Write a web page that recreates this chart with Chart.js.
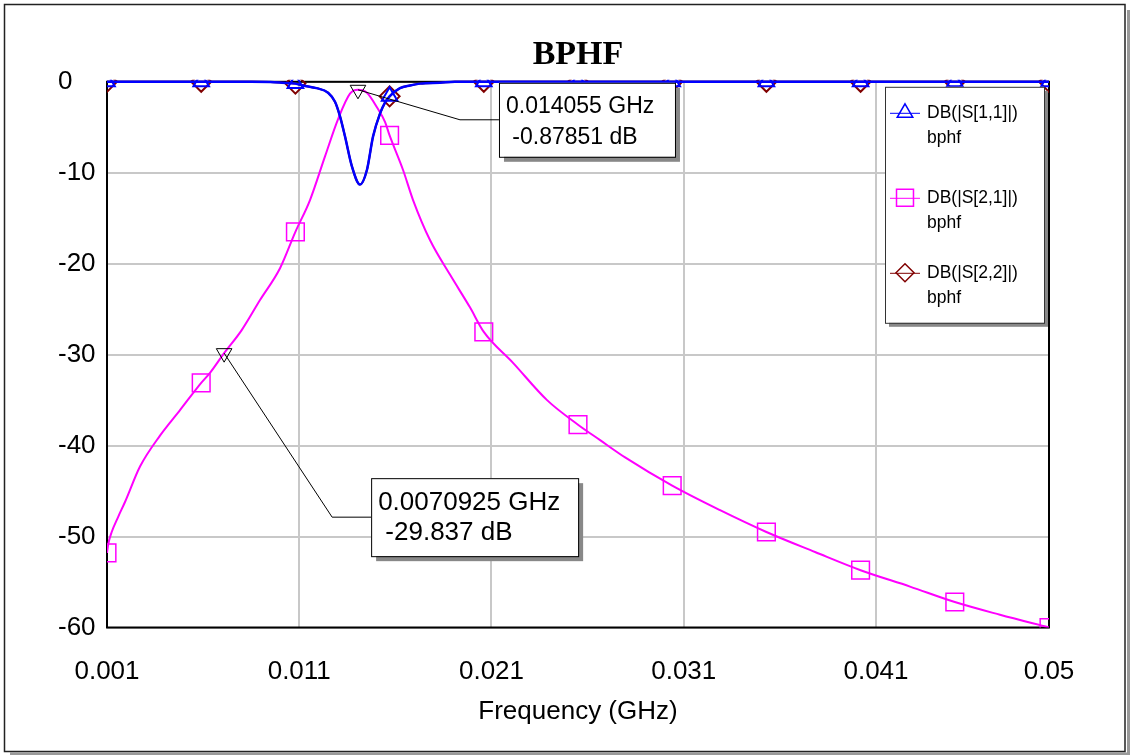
<!DOCTYPE html>
<html>
<head>
<meta charset="utf-8">
<title>BPHF</title>
<script src="https://cdn.jsdelivr.net/npm/chart.js@4/dist/chart.umd.min.js"></script>
<style>
  html, body { margin: 0; padding: 0; background: #fff; }
  #wrap { width: 1130px; height: 755px; }
</style>
</head>
<body>
<div id="wrap"><canvas id="bphf" width="1130" height="755"></canvas></div>
<script>
// axis ticks
const xTicks = [0.001, 0.011, 0.021, 0.031, 0.041, 0.05];
const xTickLabels = ['0.001', '0.011', '0.021', '0.031', '0.041', '0.05'];
const yTicks = [0, -10, -20, -30, -40, -50, -60];
const yTickLabels = ['0', '-10', '-20', '-30', '-40', '-50', '-60'];

// frequencies (GHz) where the trace symbols are drawn
const symbolFreqs = [0.001, 0.0059, 0.0108, 0.0157, 0.0206, 0.0255, 0.0304, 0.0353, 0.0402, 0.0451, 0.05];

// DB(|S[1,1]|)
const s11Freq = [0.001, 0.0059, 0.0085, 0.0095, 0.0101, 0.0108, 0.0112, 0.0119, 0.0125, 0.01286, 0.01312, 0.01338, 0.01374, 0.01416, 0.01452, 0.01484, 0.0152, 0.01546, 0.0157, 0.01624, 0.01676, 0.01728, 0.01832, 0.0191, 0.0206, 0.0255, 0.0304, 0.0353, 0.0402, 0.0451, 0.05];
const s11Db = [0, 0, 0, -0.03, -0.1, -0.2, -0.4, -0.7, -1.2, -2.2, -3.8, -6.0, -9.3, -11.3, -9.7, -6.0, -3.5, -2.3, -1.6, -0.7, -0.4, -0.2, -0.1, 0, 0, 0, 0, 0, 0, 0, 0];

// DB(|S[2,1]|)
const s21Freq = [0.001, 0.001068, 0.001244, 0.001588, 0.001936, 0.002717, 0.003757, 0.004797, 0.0059, 0.006358, 0.0070925, 0.008007, 0.008959, 0.01, 0.0108, 0.01156, 0.01234, 0.01302, 0.01364, 0.014055, 0.01452, 0.01504, 0.01546, 0.0157, 0.0164, 0.01692, 0.0178, 0.01884, 0.01988, 0.0206, 0.02212, 0.02389, 0.0255, 0.02665, 0.02795, 0.0304, 0.03289, 0.0353, 0.03783, 0.0402, 0.04277, 0.0451, 0.04745, 0.05];
const s21Db = [-51.8, -50.8, -49.5, -47.8, -46.2, -42.3, -38.9, -36.1, -33.1, -32.0, -29.837, -27.3, -24.0, -20.5, -16.5, -13.0, -8.2, -4.1, -1.3, -0.87851, -1.2, -2.8, -4.4, -5.9, -9.7, -13.0, -17.4, -21.2, -24.8, -27.5, -30.9, -35.0, -37.7, -39.4, -41.3, -44.4, -47.1, -49.5, -51.7, -53.7, -55.5, -57.2, -58.6, -60.0];

// DB(|S[2,2]|)
const s22Freq = [0.001, 0.0059, 0.0085, 0.0095, 0.0101, 0.0108, 0.0112, 0.0119, 0.0125, 0.01286, 0.01312, 0.01338, 0.01374, 0.01416, 0.01452, 0.01484, 0.0152, 0.01546, 0.0157, 0.01624, 0.01676, 0.01728, 0.01832, 0.0191, 0.0206, 0.0255, 0.0304, 0.0353, 0.0402, 0.0451, 0.05];
const s22Db = [0, 0, 0, -0.03, -0.1, -0.2, -0.4, -0.7, -1.2, -2.2, -3.8, -6.0, -9.3, -11.3, -9.7, -6.0, -3.5, -2.3, -1.6, -0.7, -0.4, -0.2, -0.1, 0, 0, 0, 0, 0, 0, 0, 0];

// marker readouts on S[2,1]
const markerFreqs = [0.014055, 0.0070925];
const markerDbs = [-0.87851, -29.837];

const BLUE = '#0000ff', PINK = '#ff00ff', MAROON = '#800000';
const SANS = "'Liberation Sans', Arial, sans-serif";

function pts(fs, ds) {
  return fs.map((f, i) => ({ x: f, y: ds[i] }));
}
function isSymbol(x) {
  return symbolFreqs.some(f => Math.abs(f - x) < 1e-9);
}
function trace(label, fs, ds, color, width, style, r, bw) {
  return {
    label: label,
    data: pts(fs, ds),
    borderColor: color,
    borderWidth: width,
    cubicInterpolationMode: 'monotone',
    pointStyle: style,
    pointRadius: ctx => (ctx.raw && isSymbol(ctx.raw.x)) ? r : 0,
    pointHoverRadius: 0,
    pointBorderColor: color,
    pointBorderWidth: bw,
    pointBackgroundColor: 'rgba(0,0,0,0)',
    clip: { left: 0, top: 2, right: 0, bottom: 0 }
  };
}

// white page, outer frame and plot border
const framePlugin = {
  id: 'frame',
  beforeDraw(chart) {
    const c = chart.ctx;
    c.save();
    c.fillStyle = '#fff';
    c.fillRect(0, 0, chart.width, chart.height);
    c.fillStyle = '#999';
    c.fillRect(10, 752.5, 1120, 2.5);
    c.fillRect(1127, 10, 3, 745);
    c.strokeStyle = '#222';
    c.lineWidth = 1.5;
    c.strokeRect(4.5, 4.5, 1120.5, 747);
    c.restore();
  },
  beforeDatasetsDraw(chart) {
    const c = chart.ctx, a = chart.chartArea;
    c.save();
    c.strokeStyle = '#000';
    c.lineWidth = 2;
    c.strokeRect(a.left, a.top, a.right - a.left, a.bottom - a.top);
    c.restore();
  }
};

// marker boxes, offsets from the marked point
const readouts = [
  { dx: 141, dy: -7, w: 176, h: 74, size: 23, l1: 24, l2: 55 },
  { dx: 147, dy: 125, w: 207, h: 78, size: 26, l1: 25, l2: 55 }
];

function downTriangle(c, x, y, r) {
  c.beginPath();
  c.moveTo(x, y + r);
  c.lineTo(x - r * 0.866, y - r / 2);
  c.lineTo(x + r * 0.866, y - r / 2);
  c.closePath();
  c.stroke();
}

const markerPlugin = {
  id: 'markers',
  afterDatasetsDraw(chart) {
    const c = chart.ctx, xs = chart.scales.x, ys = chart.scales.y;
    c.save();
    markerFreqs.forEach((f, i) => {
      const px = xs.getPixelForValue(f), py = ys.getPixelForValue(markerDbs[i]);
      const b = readouts[i];
      const bx = px + b.dx, by = py + b.dy;
      // leader
      c.strokeStyle = '#000';
      c.lineWidth = 1;
      c.beginPath();
      c.moveTo(px, py);
      c.lineTo(bx - 39, by + b.h / 2);
      c.lineTo(bx, by + b.h / 2);
      c.stroke();
      downTriangle(c, px, py, 9);
      // box with shadow
      c.fillStyle = '#888';
      c.fillRect(bx + 5, by + 5, b.w, b.h);
      c.fillStyle = '#fff';
      c.fillRect(bx, by, b.w, b.h);
      c.strokeRect(bx + 0.5, by + 0.5, b.w, b.h);
      c.fillStyle = '#000';
      c.font = b.size + 'px ' + SANS;
      c.textBaseline = 'middle';
      c.textAlign = 'left';
      c.fillText(f + ' GHz', bx + 7, by + b.l1);
      c.fillText(' ' + markerDbs[i] + ' dB', bx + 7, by + b.l2);
    });
    c.restore();
  }
};

// legend box in the upper right of the plot
const legendItems = [
  { name: 'DB(|S[1,1]|)', color: BLUE, style: 'triangle', r: 9, dy: 26 },
  { name: 'DB(|S[2,1]|)', color: PINK, style: 'rect', r: 12, dy: 111 },
  { name: 'DB(|S[2,2]|)', color: MAROON, style: 'rectRot', r: 9, dy: 186 }
];
const legendPlugin = {
  id: 'traceLegend',
  afterDraw(chart) {
    const c = chart.ctx, a = chart.chartArea;
    const lx = a.right - 164, ly = a.top + 5, w = 159, h = 236;
    c.save();
    c.fillStyle = '#888';
    c.fillRect(lx + 4, ly + 4, w, h);
    c.fillStyle = '#fff';
    c.fillRect(lx, ly, w, h);
    c.strokeStyle = '#333';
    c.lineWidth = 1;
    c.strokeRect(lx + 0.5, ly + 0.5, w, h);
    legendItems.forEach(it => {
      const y = ly + it.dy;
      c.strokeStyle = it.color;
      c.lineWidth = 1;
      c.beginPath();
      c.moveTo(lx + 5, y + 0.5);
      c.lineTo(lx + 35, y + 0.5);
      c.stroke();
      c.fillStyle = 'rgba(0,0,0,0)';
      c.lineWidth = 1.5;
      Chart.helpers.drawPoint(c, { pointStyle: it.style, radius: it.r, borderWidth: 1.5 }, lx + 20, y);
      c.fillStyle = '#000';
      c.font = '17.5px ' + SANS;
      c.textBaseline = 'middle';
      c.fillText(it.name, lx + 42, y);
      c.fillText('bphf', lx + 42, y + 25);
    });
    c.restore();
  }
};

Chart.defaults.font.family = SANS;
Chart.defaults.color = '#000';

new Chart(document.getElementById('bphf').getContext('2d'), {
  type: 'line',
  data: {
    datasets: [
      trace('DB(|S[1,1]|)', s11Freq, s11Db, BLUE, 2.5, 'triangle', 9, 2),
      trace('DB(|S[2,1]|)', s21Freq, s21Db, PINK, 2, 'rect', 12.5, 1.5),
      trace('DB(|S[2,2]|)', s22Freq, s22Db, MAROON, 2, 'rectRot', 10, 2)
    ]
  },
  options: {
    responsive: false,
    animation: false,
    events: [],
    layout: { padding: { left: 58, right: 81, top: 0, bottom: 0 } },
    plugins: {
      legend: { display: false },
      tooltip: { enabled: false },
      title: {
        display: true,
        text: 'BPHF',
        fullSize: false,
        color: '#000',
        font: { family: "'Liberation Serif', 'Times New Roman', serif", size: 34, weight: 'bold' },
        padding: { top: 35, bottom: 6 }
      }
    },
    scales: {
      x: {
        type: 'linear',
        min: 0.001,
        max: 0.05,
        afterBuildTicks: s => { s.ticks = xTicks.map(v => ({ value: v })); },
        afterFit: s => { s.height = 127.5; },
        ticks: {
          padding: 29,
          font: { size: 26 },
          color: '#000',
          maxRotation: 0,
          callback: (v, i) => xTickLabels[i]
        },
        grid: { color: '#c8c8c8', lineWidth: 2, drawTicks: false },
        border: { display: false },
        title: {
          display: true,
          text: 'Frequency (GHz)',
          color: '#000',
          font: { size: 26 },
          padding: { top: 4, bottom: 28 }
        }
      },
      y: {
        min: -60,
        max: 0,
        afterBuildTicks: s => { s.ticks = yTicks.map(v => ({ value: v })); },
        afterFit: s => { s.width = 49; },
        ticks: {
          crossAlign: 'far',
          font: { size: 26 },
          color: '#000',
          callback: (v, i) => yTickLabels[i]
        },
        grid: { color: '#c8c8c8', lineWidth: 2, drawTicks: false },
        border: { display: false }
      }
    }
  },
  plugins: [framePlugin, markerPlugin, legendPlugin]
});
</script>
</body>
</html>
